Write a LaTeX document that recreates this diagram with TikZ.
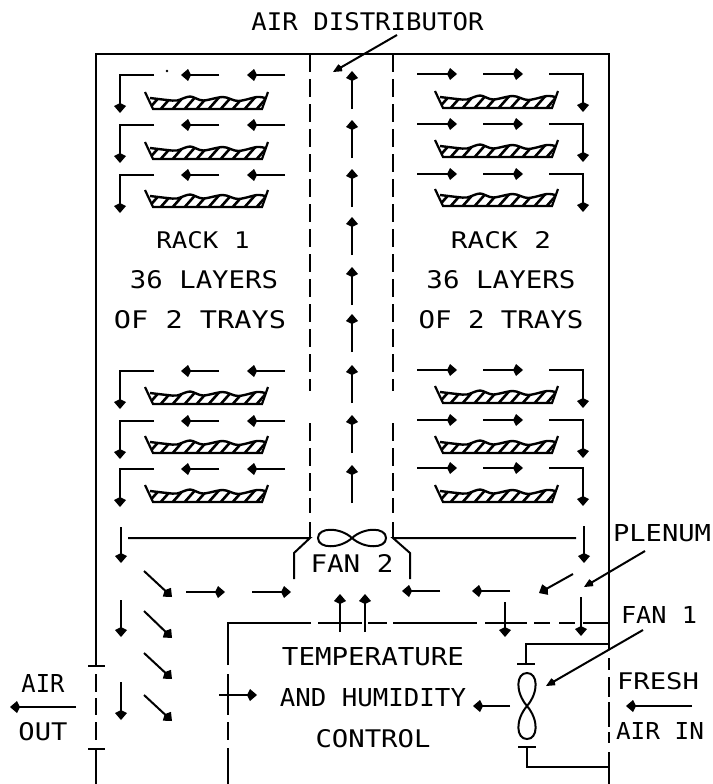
\documentclass[tikz,border=0pt]{standalone}
\usepackage{graphicx}
\usepackage{fontspec}
\setmainfont{DejaVu Sans Mono}
\usetikzlibrary{arrows.meta}
\tikzset{
  wall/.style={line width=2pt,line cap=butt},
  dashwall/.style={line width=2pt,dash pattern=on 18pt off 7pt},
  flow/.style={line width=2pt,-{Kite[length=10pt,width=12pt,inset=3pt]}},
  leader/.style={line width=2pt,-{Kite[length=10pt,width=8pt,inset=1.5pt]}},
  lbl/.style={inner sep=0pt,outer sep=0pt,anchor=center}
}
\newcommand{\fitlabel}[5]{\node[lbl] (#1) at (#2) {\resizebox{#3pt}{#4pt}{#5}};}
\newcommand{\trayat}[2]{%
  \begin{scope}[shift={(#1,#2)}]
    \begin{scope}
      \clip plot[smooth] coordinates {(5,6) (22,8) (32,8.5) (45,4.5) (58,8.5) (78,5) (93,9) (112,5) (120,6)} -- (116,17) -- (8,17) -- cycle;
      \foreach \h in {2,14,...,122} \draw[line width=2.6pt] (\h,19) -- (\h+15,2);
    \end{scope}
    \draw[line width=2.4pt,line join=round] plot[smooth] coordinates {(5,6) (22,8) (32,8.5) (45,4.5) (58,8.5) (78,5) (93,9) (112,5) (120,6)};
    \draw[line width=2.2pt,line join=miter] (0,0) -- (8,17) -- (117,17) -- (123,0);
  \end{scope}}
\newcommand{\leftrow}[1]{%
  \draw[flow] (154,#1) -- (120,#1) -- (120,#1+38);
  \draw[flow] (219,#1) -- (181,#1);
  \draw[flow] (285,#1) -- (247,#1);}
\newcommand{\rightrow}[1]{%
  \draw[flow] (417,#1) -- (457,#1);
  \draw[flow] (483,#1) -- (523,#1);
  \draw[flow] (549,#1) -- (583,#1) -- (583,#1+38);}
\begin{document}
\begin{tikzpicture}[x=1pt,y=-1pt]
\useasboundingbox (0,0) rectangle (712,784);

% outer walls
\draw[wall] (96,666) -- (96,54) -- (609,54) -- (609,650);
\draw[wall] (88,666) -- (105,666);
\draw[wall] (96,674) -- (96,692) (96,698) -- (96,715) (96,722) -- (96,740);
\draw[wall] (88,749) -- (105,749) (96,749) -- (96,784);
\draw[wall] (609,658) -- (609,670) (609,677) -- (609,697) (609,702) -- (609,727) (609,732) -- (609,743) (609,752) -- (609,784);

% air distributor walls
\foreach \dx in {310,393} {
  \draw[dashwall] (\dx,54) -- (\dx,391);
  \draw[dashwall] (\dx,423) -- (\dx,513);
  \draw[wall] (\dx,522) -- (\dx,538);
}
% plenum duct
\draw[wall] (128,538) -- (310,538) -- (294,553) -- (294,579);
\draw[wall] (576,538) -- (393,538) -- (410,553) -- (410,579);

% fan 2
\draw[line width=2pt] (352,538) .. controls (340,527) and (318,527) .. (318,538)
  .. controls (318,549) and (340,549) .. (352,538)
  .. controls (364,527) and (386,527) .. (386,538)
  .. controls (386,549) and (364,549) .. (352,538);

% control box
\draw[wall] (228,665) -- (228,623) -- (311,623);
\draw[wall] (318,623) -- (362,623) (368,623) -- (387,623) (393,623) -- (477,623)
  (485,623) -- (527,623) (534,623) -- (550,623) (559,623) -- (575,623) (583,623) -- (609,623);
\draw[wall] (228,674) -- (228,715) (228,722) -- (228,740) (228,748) -- (228,784);

% fan 1 housing
\draw[wall] (609,644) -- (526,644) -- (526,664);
\draw[wall] (517,664) -- (535,664);
\draw[wall] (518,747) -- (536,747);
\draw[wall] (527,747) -- (527,767) -- (609,767);
\draw[line width=2pt] (527,706) .. controls (515,692) and (516,673) .. (527,673)
  .. controls (538,673) and (539,692) .. (527,706)
  .. controls (515,720) and (516,739) .. (527,739)
  .. controls (538,739) and (539,720) .. (527,706);

% rows
\foreach \r in {75,125,175,371,421,469} {\leftrow{\r}}
\foreach \r in {74,124,174,370,420,468} {\rightrow{\r}}
\foreach \t in {92,142,190,387,436,485} {\trayat{145}{\t}}
\foreach \t in {91,140,189,386,436,485} {\trayat{435}{\t}}
\fill (167,71) circle (1.3pt);

% central arrows
\foreach \tp in {71,120,169,217,267,314,365,415,465} {
  \draw[flow] (352,\tp+38) -- (352,\tp);
}

% lower left flows
\draw[flow] (121,527) -- (121,563);
\draw[flow] (121,600) -- (121,637);
\draw[flow] (121,682) -- (121,720);
\draw[flow] (144,571) -- (172,597);
\draw[flow] (144,611) -- (172,638);
\draw[flow] (144,653) -- (172,679);
\draw[flow] (144,695) -- (172,721);
\draw[flow] (186,592) -- (225,592);
\draw[flow] (252,592) -- (291,592);
\draw[flow] (340,632) -- (340,594);
\draw[flow] (365,632) -- (365,594);
\draw[flow] (219,695) -- (257,695);
\draw[flow] (76,707) -- (10,707);

% lower right flows
\draw[flow] (584,526) -- (584,563);
\draw[flow] (581,597) -- (581,636);
\draw[flow] (505,602) -- (505,637);
\draw[flow] (573,574) -- (539,593);
\draw[flow] (510,591) -- (472,591);
\draw[flow] (440,591) -- (402,591);
\draw[flow] (510,706) -- (473,706);
\draw[flow] (692,706) -- (626,706);

% leaders
\coordinate (distfrom) at (397,35);
\coordinate (distto) at (333,72);
\coordinate (plenfrom) at (645,551);
\coordinate (plento) at (584,587);
\coordinate (fanfrom) at (643,630);
\coordinate (fanto) at (546,686);
\draw[leader] (distfrom) -- (distto);
\draw[leader] (plenfrom) -- (plento);
\draw[leader] (fanfrom) -- (fanto);

% labels
\fitlabel{distlabel}{367.5,22}{232}{18}{AIR DISTRIBUTOR}
\fitlabel{rackone}{203,240}{93}{17}{RACK 1}
\fitlabel{layersone}{204,280}{148}{18}{36 LAYERS}
\fitlabel{traysone}{200,320}{172}{18}{OF 2 TRAYS}
\fitlabel{racktwo}{501,240}{100}{17}{RACK 2}
\fitlabel{layerstwo}{501,280}{149}{18}{36 LAYERS}
\fitlabel{traystwo}{501,320}{165}{18}{OF 2 TRAYS}
\fitlabel{fantwo}{352,563}{83}{18}{FAN 2}
\fitlabel{temp}{373,657}{182}{18}{TEMPERATURE}
\fitlabel{humid}{373,698}{186}{18}{AND HUMIDITY}
\fitlabel{control}{373,739}{115}{18}{CONTROL}
\fitlabel{plenum}{662,533}{98}{17}{PLENUM}
\fitlabel{fanone}{659,615}{76}{17}{FAN 1}
\fitlabel{fresh}{658,681}{82}{17}{FRESH}
\fitlabel{airin}{660,731}{88}{17}{AIR IN}
\fitlabel{airout}{43,683}{43}{18}{AIR}
\fitlabel{outlabel}{43,732}{49}{18}{OUT}
\end{tikzpicture}
\end{document}
